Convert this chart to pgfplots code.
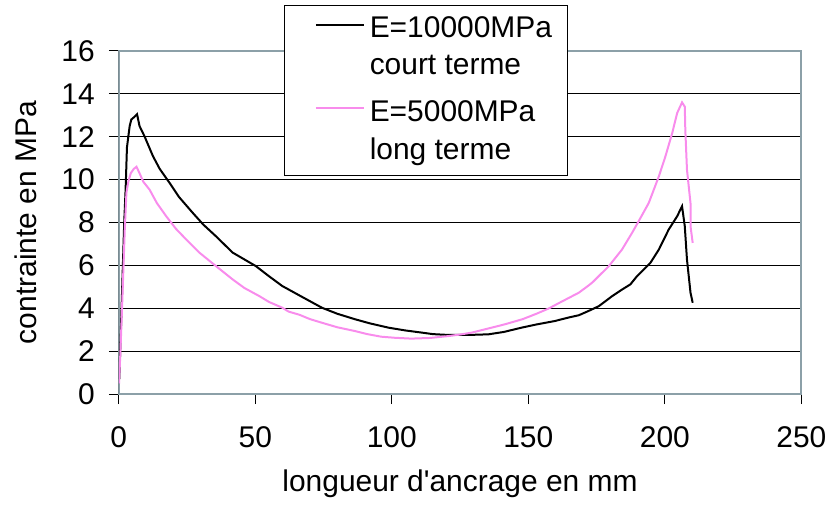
\documentclass[border=0pt]{standalone}
\usepackage{fontspec}
\setmainfont{Liberation Sans}
\usepackage{pgfplots}
\pgfplotsset{compat=1.18}
\usetikzlibrary{calc}
\definecolor{framegray}{RGB}{140,160,168}
\definecolor{lpink}{RGB}{248,140,236}
% legend row of fixed height 17pt, text raised by #1
\newcommand{\legrow}[2]{\raisebox{#1}[17pt][0pt]{#2}}

\begin{document}
\begin{tikzpicture}
\begin{axis}[
  scale only axis,
  width=342pt, height=172pt,
  xmin=0, xmax=250, ymin=0, ymax=16,
  xtick={0,50,...,250}, ytick={0,2,...,16},
  xtick pos=bottom, ytick pos=left,
  tick align=outside, major tick length=5pt,
  tick style={black, line width=0.5pt},
  axis line style={framegray, line width=1pt},
  ymajorgrids, major grid style={black, line width=0.5pt},
  font=\fontsize{15}{18}\selectfont,
  /pgf/number format/assume math mode=true,
  xticklabel style={yshift=-7.5pt},
  yticklabel style={xshift=-3.5pt},
  xlabel={longueur d\textquotesingle ancrage en mm},
  ylabel={contrainte en MPa},
  xlabel style={at={(axis description cs:0.5,-0.262)}, anchor=center},
  ylabel style={at={(axis description cs:-0.136,0.5)}, anchor=center},
  legend style={at={(axis description cs:0.2427,1.1337)}, anchor=north west,
    draw=black, line width=0.5pt, fill=white,
    inner xsep=8pt, inner ysep=2.3pt, row sep=2.25pt, column sep=2.5pt,
    nodes={inner xsep=0pt, inner ysep=0pt}, font=\fontsize{15}{18}\selectfont},
  legend cell align=left,
  legend image code/.code={\path (0pt,0pt); \draw[#1] (7pt,1.6pt) -- (31pt,1.6pt);},
]
\draw[black, line width=0.6pt] (rel axis cs:0,0) -- (rel axis cs:0,1);

\addplot[black, line width=1pt] coordinates {
(0.2,0.7) (0.9,3.5) (2.0,8.0) (2.5,9.5) (3.0,11.5) (4.0,12.5) (4.6,12.8)
(5.5,12.9) (6.7,13.05) (7.6,12.5) (9.5,12.0) (12.5,11.1) (15,10.5)
(18.6,9.85) (22,9.2) (27.1,8.45) (31,7.9) (35.6,7.36) (41.7,6.6)
(50.2,5.97) (55,5.5) (59.9,5.04) (62.2,4.88) (66.2,4.6) (74.4,4.03)
(80,3.75) (86.6,3.49) (92,3.3) (98.8,3.1) (105,2.97) (111,2.87)
(115,2.8) (120.8,2.76) (128,2.76) (135.4,2.79) (141,2.9) (147.5,3.1)
(153,3.25) (159.7,3.41) (165,3.58) (168.5,3.68) (171.9,3.87) (175.8,4.1)
(180.7,4.57) (184,4.85) (187.4,5.12) (189.8,5.5) (194.7,6.12)
(197.8,6.74) (201.4,7.67) (204.5,8.29) (206.3,8.76) (207.3,7.83)
(208.1,6.28) (209.4,4.73) (210.2,4.26)
};
\addlegendentry{\legrow{3.5pt}{E=10000MPa}}
\addlegendimage{empty legend}
\addlegendentry{\legrow{5.25pt}{court terme}}

\addplot[lpink, line width=1pt] coordinates {
(0.1,0.5) (0.6,1.94) (1.2,4.0) (2.2,7.67) (2.8,9.38) (3.5,9.9) (4.4,10.3)
(5.5,10.5) (6.5,10.6) (7.6,10.3) (9,9.9) (11.3,9.53) (14,8.9)
(17.4,8.29) (21,7.7) (24.7,7.21) (29.6,6.59) (35.6,5.97) (41.7,5.35)
(46,4.95) (51.5,4.57) (55,4.3) (59.9,4.03) (62.2,3.85) (66.2,3.7)
(70,3.5) (74.4,3.33) (80,3.12) (86.6,2.94) (91,2.8) (96.1,2.68)
(101,2.63) (107.1,2.59) (114,2.62) (120.8,2.71) (125,2.78) (129.3,2.87)
(135,3.05) (141.5,3.26) (148,3.5) (153,3.75) (157.4,3.99) (162,4.3)
(168.5,4.73) (171.9,5.05) (173.4,5.2) (179.5,5.97) (184.3,6.74)
(188,7.52) (190.4,8.06) (194.1,8.91) (197.8,10.15) (200.2,11.08)
(202.7,12.17) (204.5,13.1) (206.3,13.6) (207.3,13.4) (207.5,12.3)
(208.1,10.47) (209.4,8.9) (209.4,7.83) (210.2,7.05)
};
\addlegendentry{\legrow{2.5pt}{E=5000MPa}}
\addlegendimage{empty legend}
\addlegendentry{\legrow{4.25pt}{long terme}}
\end{axis}
\path ($(current axis.south west)+(-59.5pt,-61pt)$) rectangle ($(current axis.north east)+(15pt,25.5pt)$);
\end{tikzpicture}
\end{document}
